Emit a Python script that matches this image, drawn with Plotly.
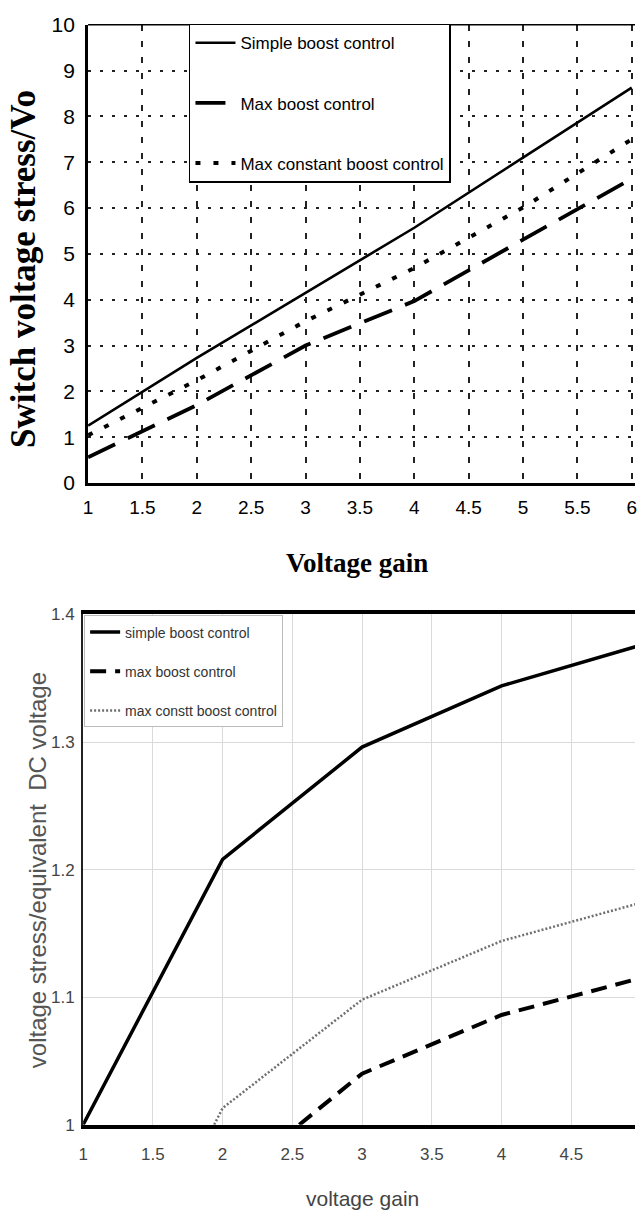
import plotly.graph_objects as go

# ---------------- data: top chart ----------------
top_gain = [1, 2, 3, 4, 5, 6]
top_simple = [1.25, 2.73, 4.15, 5.57, 7.10, 8.63]
top_maxboost = [0.56, 1.70, 3.00, 3.97, 5.31, 6.64]
top_maxconst = [1.04, 2.24, 3.53, 4.69, 6.01, 7.50]
top_xticks = [1, 1.5, 2, 2.5, 3, 3.5, 4, 4.5, 5, 5.5, 6]
top_yticks = [0, 1, 2, 3, 4, 5, 6, 7, 8, 9, 10]
top_names = ["Simple boost control", "Max boost control", "Max constant boost control"]

# ---------------- data: bottom chart ----------------
bot_simple_x = [1, 2, 3, 4, 5]
bot_simple_y = [1.0, 1.208, 1.296, 1.344, 1.376]
bot_maxboost_x = [2.55, 3, 4, 5]
bot_maxboost_y = [1.0, 1.040, 1.086, 1.115]
bot_maxconst_x = [1.94, 2, 3, 4, 5]
bot_maxconst_y = [1.0, 1.013, 1.098, 1.144, 1.174]
bot_xticks = [1, 1.5, 2, 2.5, 3, 3.5, 4, 4.5, 5]
bot_yticks = [1, 1.1, 1.2, 1.3, 1.4]
bot_names = ["simple boost control", "max boost control", "max constt boost control"]

NARROW = "Liberation Sans Narrow, Arial Narrow, Liberation Sans, sans-serif"
SERIF = "Liberation Serif, Times New Roman, serif"
SANS = "Liberation Sans, Arial, sans-serif"

W, H = 637, 1224

def px_x(p):
    return p / W

def px_y(p):
    return 1 - p / H

fig = go.Figure()

# top traces
fig.add_trace(go.Scatter(x=top_gain, y=top_simple, mode="lines", name=top_names[0],
                         line=dict(color="black", width=2.6), xaxis="x", yaxis="y",
                         legend="legend", legendgroup="t1"))
fig.add_trace(go.Scatter(x=top_gain, y=top_maxboost, mode="lines", name=top_names[1],
                         line=dict(color="black", width=3.8, dash="30px,14px"), xaxis="x", yaxis="y",
                         legend="legend", legendgroup="t2"))
fig.add_trace(go.Scatter(x=top_gain, y=top_maxconst, mode="lines", name=top_names[2],
                         line=dict(color="black", width=4, dash="5px,13px"), xaxis="x", yaxis="y",
                         legend="legend", legendgroup="t3"))

# bottom traces
fig.add_trace(go.Scatter(x=bot_simple_x, y=bot_simple_y, mode="lines", name=bot_names[0],
                         line=dict(color="black", width=3.5), xaxis="x2", yaxis="y2",
                         legend="legend2", legendgroup="b1"))
fig.add_trace(go.Scatter(x=bot_maxboost_x, y=bot_maxboost_y, mode="lines", name=bot_names[1],
                         line=dict(color="black", width=4, dash="16px,9px"), xaxis="x2", yaxis="y2",
                         legend="legend2", legendgroup="b2"))
fig.add_trace(go.Scatter(x=bot_maxconst_x, y=bot_maxconst_y, mode="lines", name=bot_names[2],
                         line=dict(color="#6f6f6f", width=2.5, dash="2px,2px"), xaxis="x2", yaxis="y2",
                         legend="legend2", legendgroup="b3"))

fig.update_layout(
    width=W, height=H,
    margin=dict(l=0, r=0, t=0, b=0),
    paper_bgcolor="white", plot_bgcolor="white",
    showlegend=True,
    xaxis=dict(domain=[px_x(84), 1.0], range=[1, 6.03], tickvals=top_xticks,
               showline=True, linecolor="black", linewidth=3,
               showgrid=True, gridcolor="#222", gridwidth=2, griddash="6px,10px",
               zeroline=False, ticks="", ticklabelstandoff=5, ticklabeloverflow="allow",
               tickfont=dict(family=NARROW, size=19, color="black"), anchor="y"),
    yaxis=dict(domain=[px_y(480), px_y(13)], range=[0, 10], tickvals=top_yticks,
               showline=True, linecolor="black", linewidth=3,
               showgrid=True, gridcolor="#222", gridwidth=2, griddash="3px,9px",
               zeroline=False, ticks="", ticklabelstandoff=6,
               tickfont=dict(family=NARROW, size=21, color="black"), anchor="x"),
    xaxis2=dict(domain=[px_x(79), 1.0], range=[1, 4.957], tickvals=bot_xticks,
                showline=True, linecolor="black", linewidth=4, mirror=True,
                showgrid=True, gridcolor="#dadada", gridwidth=1.2,
                zeroline=False, ticks="", ticklabelstandoff=11,
                tickfont=dict(family=NARROW, size=17, color="#444"), anchor="y2"),
    yaxis2=dict(domain=[px_y(1134), px_y(614)], range=[1, 1.4], tickvals=bot_yticks,
                showline=True, linecolor="#222", linewidth=2,
                showgrid=True, gridcolor="#dadada", gridwidth=1.2,
                zeroline=False, ticks="", ticklabelstandoff=3,
                tickfont=dict(family=NARROW, size=17, color="#444"), anchor="x2"),
    legend=dict(x=px_x(186), y=px_y(12), xanchor="left", yanchor="top",
                bgcolor="white", bordercolor="black", borderwidth=1.5,
                font=dict(family=NARROW, size=17, color="black"),
                tracegroupgap=35, itemwidth=40),
    legend2=dict(x=px_x(80), y=px_y(615), xanchor="left", yanchor="top",
                 bgcolor="white", bordercolor="#bbbbbb", borderwidth=1,
                 font=dict(family=NARROW, size=14, color="#333"),
                 tracegroupgap=18, itemwidth=30),
    shapes=[
        dict(type="line", xref="x domain", yref="y domain", x0=0, x1=1, y0=1, y1=1,
             line=dict(color="black", width=1.6), layer="above"),
    ],
    annotations=[
        dict(text="Switch voltage stress/Vo", x=px_x(18), y=px_y(262), xref="paper", yref="paper",
             textangle=-90, showarrow=False, xanchor="center", yanchor="middle",
             font=dict(family=SERIF, size=35, color="black", weight="bold")),
        dict(text="Voltage gain", x=px_x(356), y=px_y(562), xref="paper", yref="paper",
             showarrow=False, xanchor="center", yanchor="middle",
             font=dict(family=SERIF, size=27, color="black", weight="bold")),
        dict(text="voltage stress/equivalent\u00a0\u00a0DC voltage", x=px_x(33), y=px_y(875),
             xref="paper", yref="paper", textangle=-90, showarrow=False,
             xanchor="center", yanchor="middle",
             font=dict(family=SANS, size=24, color="#555")),
        dict(text="voltage gain", x=px_x(361), y=px_y(1209), xref="paper", yref="paper",
             showarrow=False, xanchor="center", yanchor="middle",
             font=dict(family=NARROW, size=21, color="#444")),
    ],
)

fig.write_html("out.html", config={"displayModeBar": False})
